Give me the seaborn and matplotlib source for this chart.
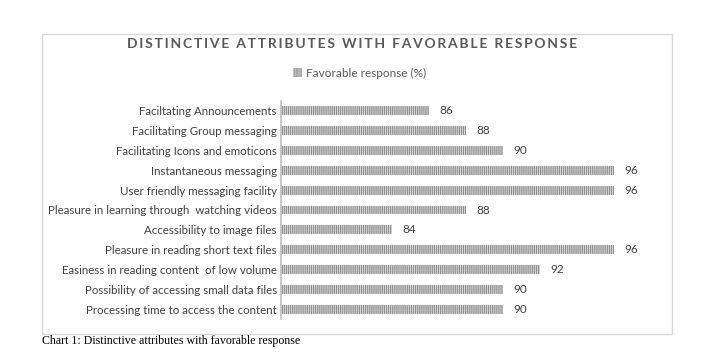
import pandas as pd
import seaborn as sns
import matplotlib.pyplot as plt
from matplotlib.patches import Rectangle, Patch

# Dados
attributes = [
    'Faciltating Announcements',
    'Facilitating Group messaging',
    'Facilitating Icons and emoticons',
    'Instantaneous messaging',
    'User friendly messaging facility',
    'Pleasure in learning through  watching videos',
    'Accessibility to image files',
    'Pleasure in reading short text files',
    'Easiness in reading content  of low volume',
    'Possibility of accessing small data files',
    'Processing time to access the content',
]
favorable = [86, 88, 90, 96, 96, 88, 84, 96, 92, 90, 90]
series_name = 'Favorable response (%)'
chart_title = 'DISTINCTIVE ATTRIBUTES WITH FAVORABLE RESPONSE'
caption = 'Chart 1: Distinctive attributes with favorable response'

df = pd.DataFrame({'attribute': attributes, 'value': favorable})

sns.set_theme(style='white')
plt.rcParams['font.family'] = ['Lato', 'DejaVu Sans']
plt.rcParams['hatch.linewidth'] = 0.9

W, H = 716, 364
fig = plt.figure(figsize=(W / 100, H / 100), dpi=100)
ax = fig.add_axes([281 / W, 1 - 319 / H, 379 / W, 218 / H])

bar_face = '#dedede'
bar_color = '#939393'
sns.barplot(data=df, y='attribute', x='value', orient='h', ax=ax,
            color=bar_face, width=0.45, saturation=1)
for p in ax.patches:
    p.set_hatch('||||||||')
    p.set_edgecolor(bar_color)
    p.set_linewidth(0)

ax.set_xlim(78, 78 + 379 / 18.5)
for i, v in enumerate(favorable):
    ax.text(v + 0.55, i, str(v), va='center', ha='left', fontsize=8.5, color='#404040')

ax.set_xlabel('')
ax.set_ylabel('')
ax.set_xticks([])
ax.tick_params(axis='y', length=0, pad=3, labelsize=8.3, labelcolor='#404040')
for s in ['top', 'right', 'bottom']:
    ax.spines[s].set_visible(False)
ax.spines['left'].set_color('#bfbfbf')
ax.spines['left'].set_linewidth(1.2)

# Titulo com espacamento entre letras
spaced = '\u2009'.join(chart_title).replace('\u2009 \u2009', '\u2009\u2009\u2009\u2009')
fig.text(352 / W, 1 - 44 / H, spaced, ha='center', va='center', fontsize=10,
         fontweight='bold', color='#595959')

handle = Patch(facecolor=bar_face, edgecolor=bar_color, hatch='||||||||', linewidth=0)
fig.legend([handle], [series_name], loc='center', bbox_to_anchor=(360 / W, 1 - 73 / H),
           frameon=False, fontsize=8.5, handlelength=0.7, handleheight=0.9,
           handletextpad=0.4, labelcolor='#595959')

# Moldura e legenda do grafico
fig.patches.append(Rectangle((42 / W, 1 - 334 / H), 630 / W, 300 / H,
                             transform=fig.transFigure, fill=False,
                             edgecolor='#d9d9d9', linewidth=1))
fig.text(42 / W, 1 - 341 / H, caption, ha='left', va='center', fontsize=8.6,
         family='Liberation Serif', color='black')

fig.savefig('out.png', dpi=100)
